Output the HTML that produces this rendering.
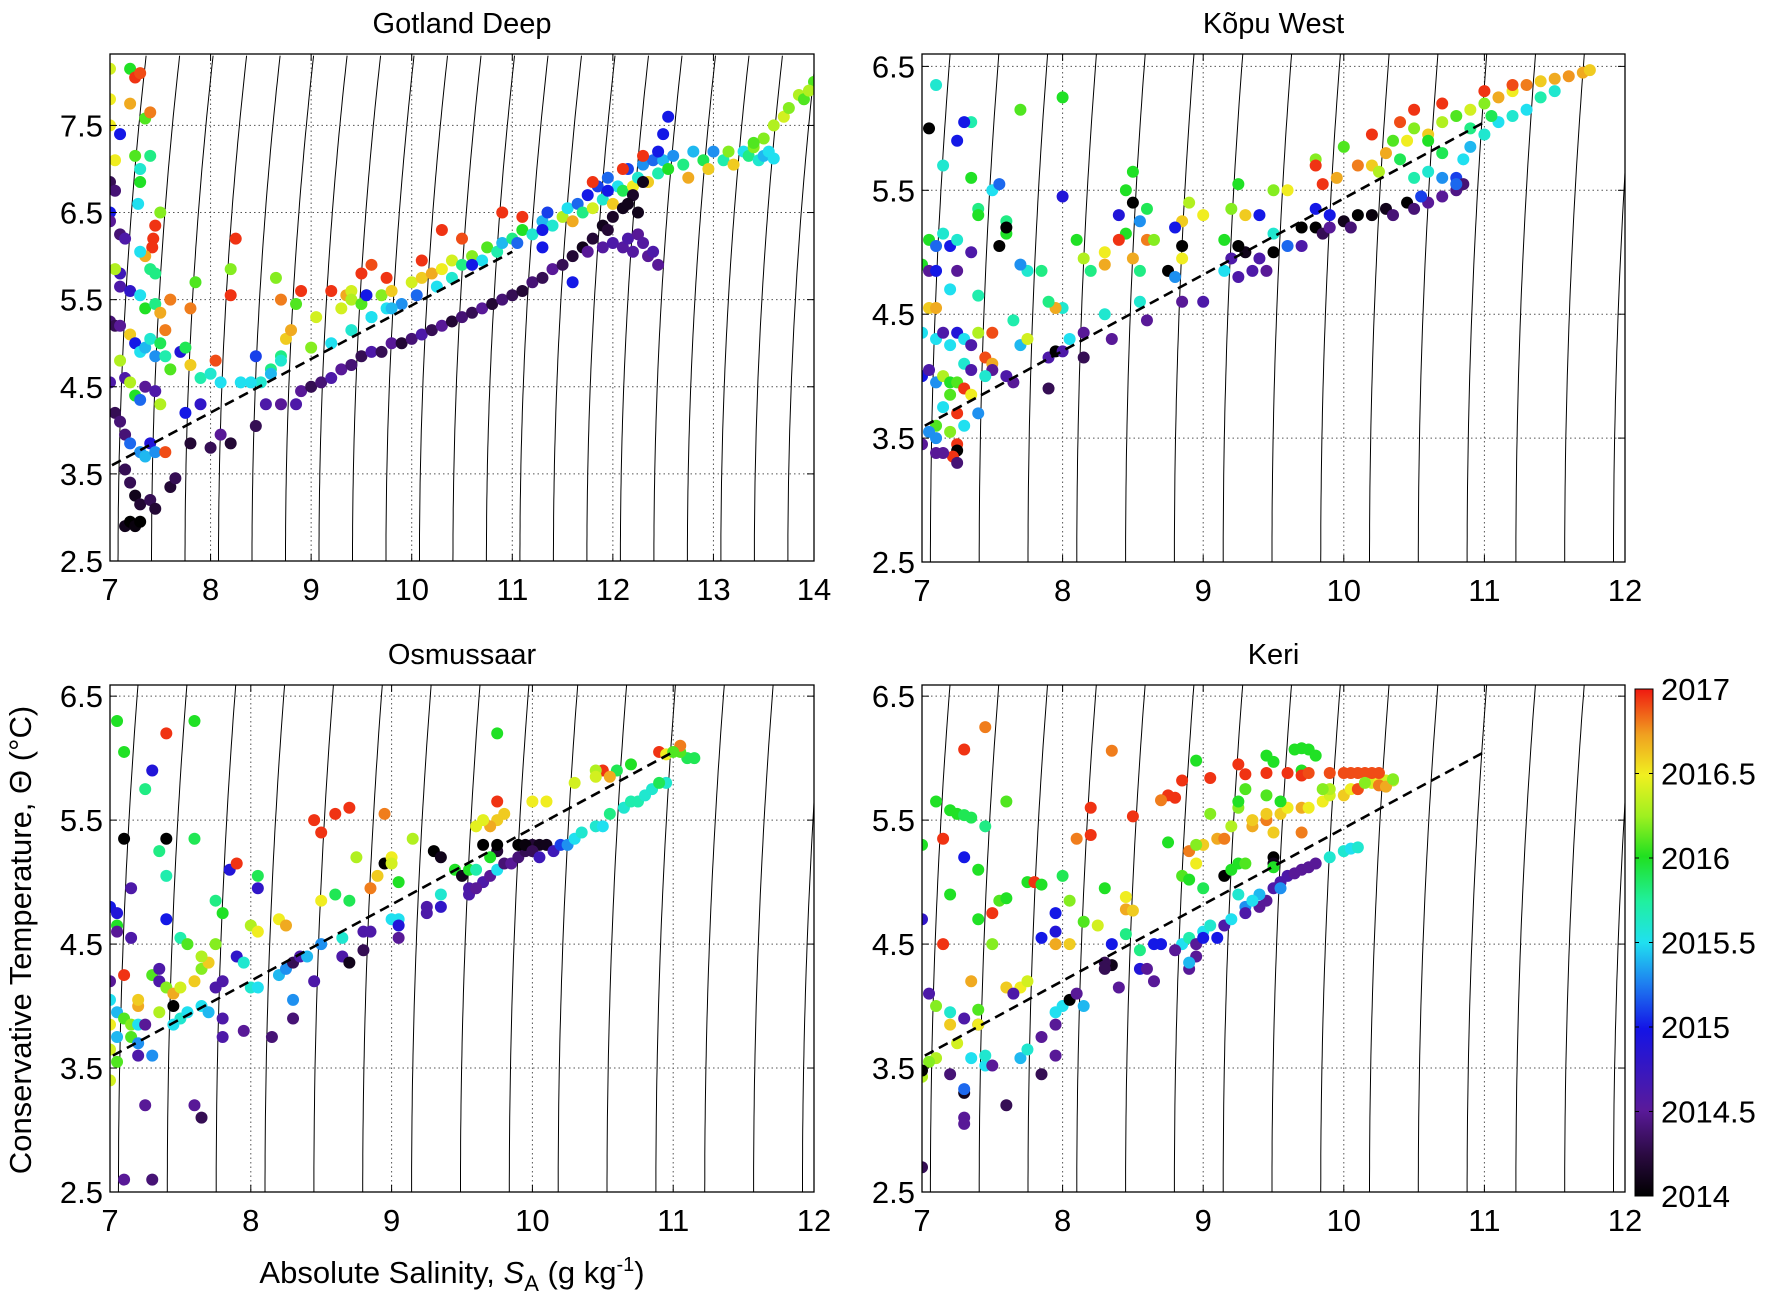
<!DOCTYPE html>
<html><head><meta charset="utf-8"><style>
html,body{margin:0;padding:0;background:#fff;}
svg{display:block;font-family:"Liberation Sans",Arial,sans-serif;}
</style></head><body>
<svg id="fig" width="1772" height="1312" viewBox="0 0 1772 1312" xmlns="http://www.w3.org/2000/svg">
<defs>
<linearGradient id="cbgrad" x1="0" y1="1" x2="0" y2="0">
<stop offset="0" stop-color="#000000"/><stop offset="0.08" stop-color="#2a0a40"/><stop offset="0.17" stop-color="#5a1a9a"/>
<stop offset="0.33" stop-color="#1414e6"/><stop offset="0.42" stop-color="#1e80f0"/><stop offset="0.5" stop-color="#20e0f0"/>
<stop offset="0.58" stop-color="#20f0a0"/><stop offset="0.67" stop-color="#20e020"/><stop offset="0.75" stop-color="#a0f020"/>
<stop offset="0.83" stop-color="#f0f020"/><stop offset="0.91" stop-color="#f0a020"/><stop offset="1" stop-color="#f01a10"/>
</linearGradient>
</defs>
</svg>
<script>
// ---------- data (years stored as year-2000) ----------
const yearOffset = 2000;
const gdS=[7.0,7.0,7.0,7.05,7.2,7.25,7.3,7.2,7.35,7.4,7.1,7.25,7.3,7.4,7.3,7.28,7.0,7.05,7.0,7.0,7.1,7.15,7.5,7.45,7.43,7.42,7.35,7.4,7.45,7.3,7.1,7.05,7.1,7.2,7.6,7.3,7.35,7.45,7.5,7.55,7.0,7.05,7.1,7.2,7.25,7.3,7.35,7.4,7.45,7.5,7.55,7.6,7.7,7.75,7.8,7.9,8.0,8.05,8.1,7.1,7.15,7.2,7.25,7.3,7.35,7.45,7.5,7.0,7.05,7.1,7.15,7.2,7.3,7.35,7.4,7.45,7.55,7.15,7.2,7.25,7.3,7.4,7.45,7.6,7.65,7.15,7.2,7.25,7.3,7.8,8.0,8.2,8.1,7.75,7.9,8.2,8.2,8.25,7.8,7.85,8.45,8.5,8.55,8.45,8.7,8.85,8.9,9.0,8.6,8.7,8.75,8.8,8.85,8.9,8.7,8.65,9.0,9.05,9.2,9.35,9.4,9.5,9.55,9.6,
9.3,9.4,9.5,9.6,9.7,9.75,9.8,9.9,10.0,10.05,10.1,10.2,10.25,10.3,10.4,10.4,10.5,10.6,10.7,10.75,10.85,10.9,11.0,11.05,11.1,11.2,11.3,11.35,11.4,11.5,11.55,11.6,11.65,11.7,11.75,11.8,11.85,11.9,11.95,12.0,12.05,12.1,12.15,12.2,12.25,12.3,12.35,12.4,12.45,12.5,12.55,12.6,12.7,12.75,12.8,12.9,12.95,13.0,13.1,13.15,13.2,13.3,13.35,13.4,13.45,13.5,13.55,13.6,13.5,13.6,13.7,13.75,13.85,13.9,14.0,13.95,13.4,12.5,12.55,12.45,12.3,12.1,11.8,11.95,11.1,10.9,10.5,10.3,10.1,9.75,9.55,10.6,11.3,
9.2,9.4,9.6,9.8,8.7,8.4,8.3,8.6,
9.1,9.2,9.3,9.4,9.5,9.6,9.7,9.8,9.9,10.0,10.1,10.2,10.3,10.4,10.5,10.6,10.7,10.8,10.9,11.0,11.1,11.2,11.3,11.4,11.5,11.6,11.7,11.8,11.9,12.0,12.1,12.2,12.3,11.75,11.9,12.0,12.1,12.15,12.25,12.3,12.35,12.45,12.4,12.2,11.6,11.3,12.25,12.15,11.95];
const gdT=[8.15,7.8,7.5,7.1,8.15,8.05,8.1,7.75,7.58,7.65,7.4,7.15,7.0,7.15,6.85,6.6,6.85,6.75,6.5,6.4,6.25,6.2,6.5,6.35,6.2,6.1,6.0,5.85,5.8,6.05,5.8,5.85,5.65,5.6,5.5,5.55,5.4,5.45,5.35,5.15,5.25,5.2,5.2,5.1,5.0,4.9,4.95,5.05,4.85,5.0,4.85,4.7,4.9,4.95,4.75,4.6,4.65,4.8,4.55,4.8,4.6,4.55,4.4,4.35,4.5,4.45,4.3,4.55,4.2,4.1,3.95,3.85,3.75,3.7,3.85,3.75,3.75,3.55,3.4,3.25,3.15,3.2,3.1,3.35,3.45,2.9,2.95,2.9,2.95,3.85,3.8,3.85,3.95,4.2,4.3,5.55,5.85,6.2,5.4,5.7,4.85,4.55,4.3,4.05,4.3,4.3,4.45,4.5,4.7,4.85,5.05,5.15,5.45,5.6,5.5,5.75,4.95,5.3,5.6,5.55,5.6,5.8,5.55,5.9,
5.4,5.5,5.45,5.3,5.55,5.4,5.6,5.45,5.7,5.55,5.75,5.8,5.65,5.85,5.75,5.95,5.9,6.0,5.95,6.1,6.05,6.15,6.2,6.15,6.3,6.25,6.4,6.5,6.35,6.45,6.55,6.4,6.6,6.5,6.7,6.55,6.8,6.65,6.9,6.6,6.8,6.75,7.0,6.8,6.9,7.05,6.85,7.1,6.95,7.1,7.0,7.15,7.05,6.9,7.2,7.1,7.0,7.2,7.1,7.2,7.05,7.2,7.15,7.25,7.1,7.15,7.2,7.12,7.35,7.5,7.6,7.7,7.85,7.8,8.0,7.9,7.3,7.4,7.6,7.2,7.15,7.0,6.85,6.75,6.45,6.5,6.2,6.3,5.95,5.75,5.55,5.9,6.3,
5.0,5.15,5.3,5.4,4.8,4.55,4.55,4.65,
4.55,4.6,4.7,4.75,4.85,4.9,4.9,5.0,5.0,5.05,5.1,5.15,5.2,5.25,5.3,5.35,5.4,5.45,5.5,5.55,5.6,5.7,5.75,5.85,5.9,6.0,6.1,6.2,6.35,6.45,6.55,6.7,6.85,6.05,6.1,6.15,6.1,6.2,6.25,6.15,6.0,5.9,6.05,6.05,5.7,6.1,6.5,6.6,6.3];
const gdY=[16.4,16.5,16.5,16.5,16.0,16.95,16.9,16.7,16.1,16.8,15.0,16.1,15.6,15.8,16.0,15.5,14.3,14.4,15.0,14.5,14.4,14.6,16.2,16.95,16.95,16.95,16.7,15.8,15.8,15.5,14.7,16.3,14.6,14.8,16.8,15.5,16.0,15.8,16.7,16.8,14.4,14.3,14.5,16.6,15.0,15.5,15.4,15.6,15.3,15.9,15.7,16.1,14.9,15.9,16.6,15.7,15.6,16.9,15.5,16.3,14.6,16.3,16.0,15.2,14.5,14.6,16.3,14.6,14.3,14.4,14.4,15.2,15.3,15.4,14.9,15.3,16.9,14.3,14.3,14.1,14.2,14.3,14.2,14.2,14.3,14.1,14.0,14.05,14.0,14.2,14.3,14.2,14.5,15.0,14.8,16.95,16.2,16.95,16.8,16.1,15.1,15.6,14.6,14.3,14.5,14.6,14.5,14.3,15.8,15.8,16.6,16.7,16.1,16.95,16.8,16.2,16.2,16.4,16.95,16.7,16.4,16.95,16.3,16.9,
16.4,16.3,16.1,15.6,16.2,15.5,16.6,15.3,16.4,15.2,16.6,16.7,15.5,16.5,15.6,16.4,15.8,16.2,15.5,16.1,15.7,15.4,15.8,15.2,16.0,15.6,15.4,15.1,15.6,16.3,15.5,16.7,15.2,15.8,15.0,16.4,15.1,15.6,15.2,16.6,15.5,15.9,15.1,16.5,15.6,15.3,16.6,15.2,15.7,15.4,16.0,15.3,15.8,16.7,15.4,15.9,16.6,15.3,15.7,16.2,16.6,15.5,15.8,16.2,15.6,15.4,15.5,15.5,16.2,16.3,16.4,16.2,16.3,16.1,16.1,16.3,16.1,15.0,15.0,15.0,16.95,16.95,16.95,15.0,16.95,16.95,16.9,16.95,16.95,16.95,15.0,15.0,15.0,
15.5,15.6,15.5,15.4,15.6,15.5,15.5,15.4,
14.4,14.6,14.5,14.4,14.3,14.6,14.3,14.5,14.2,14.4,14.6,14.3,14.5,14.2,14.4,14.3,14.5,14.2,14.4,14.3,14.2,14.4,14.3,14.5,14.3,14.2,14.1,14.2,14.1,14.15,14.1,14.15,14.1,14.5,14.55,14.6,14.55,14.6,14.5,14.55,14.5,14.5,14.6,14.55,15.0,15.0,14.1,14.1,14.2];

const kwS=[9.8,9.85,10.0,10.1,10.2,10.3,10.35,10.45,10.5,10.6,10.7,10.8,10.9,11.0,11.1,11.2,11.3,11.4,11.5,11.6,11.7,11.75,11.0,11.2,10.7,10.5,10.4,10.2,9.8,9.95,10.25,
10.5,10.6,10.7,10.8,10.85,10.9,11.0,11.1,11.2,11.3,11.4,11.5,10.9,10.7,11.05,10.6,10.4,
9.8,9.85,10.0,10.05,10.1,10.2,10.3,10.35,10.45,10.5,10.6,10.7,10.8,10.85,10.55,10.8,9.9,9.7,
9.8,9.9,9.6,9.5,9.2,9.3,9.25,9.0,9.4,9.15,9.5,9.6,9.7,9.5,9.4,9.3,9.25,9.2,9.15,9.25,9.35,9.45,9.0,8.85,8.85,8.85,8.8,8.9,8.75,8.85,8.8,8.6,8.65,8.55,8.6,8.5,8.4,8.45,8.5,8.45,8.4,8.5,8.55,8.55,8.6,8.3,8.35,8.3,8.3,8.15,8.2,8.1,8.0,8.0,8.0,7.95,7.9,7.85,7.75,7.7,7.6,7.6,7.7,7.35,7.3,7.1,7.05,7.15,7.4,7.35,7.5,7.55,7.6,
7.0,7.05,7.1,7.15,7.2,7.25,7.05,7.05,7.1,7.0,7.1,7.15,7.2,7.25,7.3,7.35,7.4,7.45,7.5,7.3,7.35,7.0,7.05,7.1,7.15,7.2,7.25,7.3,7.35,7.4,7.2,7.15,7.25,7.3,7.2,7.1,7.05,7.1,7.25,7.25,7.22,7.0,7.1,7.15,7.25,7.5,7.6,7.65,7.7,7.75,7.5,7.65,7.9,7.95,8.0,8.15,8.05,8.15,7.9,7.45,7.4,7.2,7.1,7.25,7.35,7.25,7.4,7.55];
const kwT=[5.75,5.55,5.85,5.7,5.7,5.8,5.9,5.9,6.0,5.95,6.05,6.1,6.15,6.2,6.25,6.3,6.35,6.38,6.4,6.42,6.45,6.47,6.3,6.35,6.2,6.15,6.05,5.95,5.7,5.6,5.65,
5.6,5.65,5.6,5.6,5.75,5.85,5.95,6.05,6.1,6.15,6.25,6.3,6.0,5.8,6.1,5.9,5.75,
5.2,5.15,5.25,5.2,5.3,5.3,5.35,5.3,5.4,5.35,5.4,5.45,5.5,5.55,5.45,5.55,5.2,5.2,
5.35,5.3,5.5,5.5,5.35,5.3,5.55,5.3,5.3,5.1,5.15,5.05,5.05,5.0,4.95,5.0,5.05,4.95,4.85,4.8,4.85,4.85,4.6,4.95,5.05,5.25,5.2,5.4,4.85,4.6,4.8,5.1,5.1,5.25,5.35,5.4,5.3,5.5,5.65,5.15,5.1,4.95,4.85,4.6,4.45,4.5,4.3,5.0,4.9,4.95,4.85,5.1,5.45,6.25,4.55,4.55,4.6,4.85,4.85,4.9,5.25,5.15,6.15,6.05,6.05,6.35,6.0,5.7,5.35,5.6,5.5,5.55,5.2,
4.9,5.1,5.05,5.15,5.05,5.1,4.85,4.55,4.55,4.35,4.3,4.35,4.25,4.35,4.3,4.25,4.35,4.15,4.1,4.1,4.05,4.0,4.05,3.95,4.0,3.95,3.95,3.9,3.85,3.7,3.85,3.75,3.7,3.6,3.55,3.6,3.55,3.5,3.45,3.4,3.35,3.45,3.38,3.38,3.3,4.05,4.0,3.95,4.25,4.3,4.35,4.45,4.15,4.2,4.2,4.15,4.3,4.35,3.9,4.0,4.65,4.7,4.85,4.85,5.0,5.9,5.3,5.05];
const kwY=[16.2,16.95,16.1,16.8,16.6,16.7,16.1,16.5,16.2,16.6,16.3,16.1,16.4,16.2,16.7,16.5,16.8,16.6,16.7,16.75,16.7,16.6,16.95,16.9,16.95,16.95,16.9,16.95,16.95,16.7,16.3,
15.7,15.6,15.3,15.1,15.5,15.4,15.6,15.5,15.6,15.5,15.7,15.6,15.8,15.9,15.9,16.0,15.9,
14.0,14.3,14.1,14.4,14.0,14.05,14.1,14.4,14.0,14.4,14.5,14.5,14.45,14.4,15.1,15.2,14.5,14.0,
15.0,15.0,16.5,16.2,16.2,16.6,16.0,16.5,15.0,16.0,15.6,15.2,14.6,14.0,14.6,14.1,14.0,14.6,15.5,14.6,14.6,14.5,14.6,16.5,14.0,16.6,15.0,16.3,14.0,14.5,15.3,16.8,16.2,15.3,15.9,14.0,14.9,16.0,16.0,16.0,16.95,16.7,15.8,15.6,14.5,15.6,14.5,16.5,16.7,16.3,15.8,16.0,14.9,16.0,15.6,16.7,15.8,15.8,15.6,15.3,15.8,16.0,16.1,15.7,15.0,15.6,14.0,15.6,15.8,16.0,15.5,15.2,14.0,
16.0,16.0,15.2,15.6,15.0,15.6,14.5,16.6,16.7,15.5,15.5,14.6,15.5,14.9,15.5,14.6,16.3,16.9,16.7,15.6,14.6,15.0,14.6,15.3,16.3,16.0,16.1,16.95,16.5,15.3,16.1,15.5,16.95,15.5,16.2,16.1,15.3,15.3,16.95,14.0,16.95,14.5,14.5,14.5,14.4,14.5,14.6,14.5,15.4,16.4,16.9,15.7,14.6,14.0,14.6,14.3,15.5,14.5,14.3,15.6,15.7,15.5,15.0,14.5,14.6,15.0,16.0,14.0];

const osS=[7.05,7.1,7.6,7.4,7.3,7.25,7.1,7.4,7.6,7.35,7.4,7.15,7.85,7.9,8.05,8.05,7.0,7.05,7.05,7.05,7.15,7.4,7.5,7.55,7.75,7.8,7.75,7.9,7.95,8.0,8.05,8.2,8.25,7.0,7.1,7.2,7.2,7.3,7.35,7.35,7.4,7.45,7.6,7.65,7.7,7.65,7.5,7.75,7.8,7.0,7.05,7.0,7.1,7.15,7.2,7.25,7.05,7.15,7.2,7.0,7.05,7.0,7.2,7.3,7.35,7.45,7.5,7.45,7.55,7.65,7.7,7.8,7.8,7.95,8.15,8.3,7.25,7.6,7.65,7.1,7.3,8.0,8.05,8.2,8.25,8.3,8.35,8.4,8.5,8.5,8.6,8.7,8.75,8.85,8.9,8.95,9.0,9.0,8.65,8.65,8.7,8.8,8.8,8.85,8.45,8.3,9.0,9.05,9.05,9.05,9.05,9.15,9.3,9.35,9.45,9.5,9.55,9.6,9.35,9.25,9.25,9.35,9.55,9.55,9.65,9.6,9.7,9.75,9.8,9.85,9.9,9.95,10.0,10.05,9.9,9.95,10.0,10.1,9.75,9.75,9.65,9.7,10.05,10.15,10.2,10.25,10.3,10.35,10.45,10.5,10.55,10.65,10.7,10.75,10.8,10.85,10.95,11.1,11.15,11.05,10.9,11.05,10.95,11.0,10.9,10.6,10.7,10.5,10.45,10.45,10.55,10.3,10.1,10.0,9.8,9.75,9.7,9.65,9.6,9.75,9.75,8.45,8.5,8.6,8.7,8.95];
const osT=[6.3,6.05,6.3,6.2,5.9,5.75,5.35,5.35,5.35,5.25,5.05,4.95,5.1,5.15,5.05,4.95,4.8,4.75,4.65,4.6,4.55,4.7,4.55,4.5,4.85,4.75,4.5,4.4,4.35,4.65,4.6,4.7,4.65,4.2,4.25,4.0,4.05,4.25,4.3,4.2,4.15,4.1,4.2,4.3,4.35,4.4,4.15,4.15,4.2,4.05,3.95,3.85,3.9,3.85,3.85,3.85,3.75,3.75,3.7,3.65,3.55,3.4,3.6,3.6,3.95,4.0,3.9,3.85,3.95,4.0,3.95,3.75,3.9,3.8,3.75,3.9,3.2,3.2,3.1,2.6,2.6,4.15,4.15,4.25,4.3,4.35,4.4,4.4,4.5,4.85,4.9,4.85,5.2,4.95,5.05,5.15,5.2,5.15,4.55,4.4,4.35,4.45,4.6,4.6,4.2,4.05,4.7,4.7,4.65,4.55,5.0,5.35,5.25,5.2,5.1,5.05,5.1,5.1,4.8,4.8,4.75,4.9,4.95,4.9,5.0,4.95,5.05,5.1,5.15,5.15,5.2,5.25,5.3,5.3,5.3,5.3,5.25,5.3,5.25,5.3,5.3,5.2,5.2,5.25,5.3,5.3,5.35,5.4,5.45,5.45,5.55,5.6,5.65,5.65,5.7,5.75,5.8,6.0,6.0,6.05,6.05,6.1,6.03,6.05,5.8,5.9,5.95,5.9,5.9,5.85,5.85,5.8,5.65,5.65,5.55,5.5,5.45,5.5,5.45,5.65,6.2,5.5,5.4,5.55,5.6,5.55];
const osY=[16.0,16.0,16.0,16.95,14.9,15.8,14.0,14.0,15.9,15.8,15.7,14.6,14.9,16.95,15.9,14.8,15.0,14.9,16.0,14.5,14.6,15.0,15.7,16.1,15.8,16.0,16.2,14.8,15.6,16.3,16.5,16.5,16.7,14.5,16.95,16.7,16.6,16.1,14.6,14.6,16.2,16.7,16.6,16.2,16.6,16.3,16.4,14.6,14.6,15.5,15.4,16.5,16.1,16.2,15.5,14.5,15.4,16.1,15.3,16.4,16.1,16.4,14.6,15.3,16.3,14.0,15.6,15.5,15.5,15.5,15.4,14.6,14.6,14.5,14.4,14.4,14.5,14.5,14.3,14.5,14.4,15.6,15.5,15.4,15.3,14.3,14.6,15.4,15.3,16.5,15.9,15.9,16.3,16.8,16.6,14.0,16.5,16.4,15.6,14.6,14.1,14.3,14.6,14.6,14.6,15.3,15.5,15.5,14.9,14.5,16.0,16.3,14.0,14.1,16.0,14.1,16.0,15.7,14.8,14.6,14.6,15.6,14.6,14.6,14.6,14.5,14.5,15.5,14.4,14.5,14.4,14.3,14.2,14.1,14.0,14.05,14.3,14.1,14.2,14.0,14.0,16.0,14.7,14.7,15.1,15.3,15.5,15.6,15.6,15.5,15.8,15.6,15.7,15.7,15.6,15.6,15.6,15.9,15.9,16.1,16.95,16.8,16.5,16.1,15.9,15.9,16.0,16.95,16.3,16.4,16.7,16.4,16.5,16.5,16.6,16.6,16.7,16.45,16.45,16.95,16.0,16.95,16.95,16.95,16.95,16.8];

const krS=[7.45,7.3,8.35,7.1,7.2,7.25,7.3,7.35,7.6,7.45,7.0,7.15,7.3,7.4,7.75,7.8,7.85,7.55,7.6,7.4,7.5,7.2,7.5,7.0,7.15,7.95,7.95,8.05,8.0,8.05,8.15,8.25,8.3,8.2,8.1,8.2,8.5,8.45,8.45,8.5,8.45,8.55,8.55,8.35,8.65,8.7,8.6,8.65,8.35,8.4,8.3,7.35,7.6,7.7,7.75,7.65,7.05,7.1,7.2,7.3,7.4,7.4,7.2,7.4,7.25,7.1,7.05,7.0,7.0,7.2,7.3,7.3,7.35,7.45,7.5,7.45,7.7,7.75,7.95,7.85,7.95,8.0,8.05,8.1,8.15,7.95,7.85,7.6,7.3,7.3,7.0,7.95,7.85,
8.85,8.9,9.0,9.05,8.95,8.9,8.95,8.8,8.9,9.0,9.1,9.15,9.2,9.3,9.3,9.4,9.45,9.5,9.55,9.6,9.65,9.7,9.75,9.8,9.55,9.4,9.35,9.25,9.9,10.0,10.05,10.1,9.15,9.5,9.5,8.3,9.0,9.2,9.25,9.3,9.5,8.85,8.9,8.95,8.9,9.0,9.1,9.15,9.2,9.35,9.35,9.45,9.45,9.55,9.6,9.7,9.75,9.85,9.9,10.0,10.05,10.2,10.25,10.3,10.35,10.25,10.1,9.9,9.7,9.5,9.7,9.85,9.05,9.25,8.95,8.75,9.3,9.25,9.45,9.55,9.5,9.45,9.65,9.7,9.75,9.8,8.95,9.25,9.05,9.3,9.45,9.6,9.7,9.75,9.9,10.0,10.05,10.1,10.15,10.2,10.25,8.75,8.7,8.8,8.85,10.15,10.3,10.35];
const krT=[6.25,6.07,6.06,5.65,5.58,5.55,5.54,5.52,5.65,5.45,5.3,5.35,5.2,5.1,5.0,5.0,4.98,4.85,4.87,4.7,4.5,4.9,4.75,4.7,4.5,4.75,4.5,4.5,5.05,4.85,4.68,4.65,4.95,5.38,5.35,5.6,5.53,4.88,4.78,4.77,4.58,4.45,4.3,4.5,4.5,4.5,4.3,4.2,4.33,4.15,4.35,4.2,4.15,4.15,4.2,4.1,4.1,4.0,3.95,3.9,3.85,3.97,3.85,3.85,3.7,3.58,3.55,3.43,3.48,3.45,3.3,3.33,3.58,3.52,3.52,3.6,3.58,3.65,3.85,3.75,3.95,4.0,4.05,4.1,4.0,3.6,3.45,3.2,3.1,3.05,2.7,4.6,4.55,
4.5,4.55,4.6,4.65,4.5,4.3,4.4,4.45,4.35,4.55,4.55,4.65,4.7,4.8,4.75,4.8,4.85,4.95,5.0,5.05,5.07,5.1,5.12,5.15,4.95,4.9,4.85,4.9,5.2,5.25,5.27,5.28,5.05,5.2,5.15,4.3,4.95,5.1,5.15,5.15,5.12,5.05,5.02,5.15,5.25,5.3,5.35,5.35,5.45,5.45,5.5,5.5,5.55,5.55,5.6,5.6,5.6,5.65,5.7,5.7,5.75,5.8,5.8,5.82,5.82,5.78,5.75,5.75,5.4,5.4,5.9,5.75,5.55,5.6,5.3,5.32,5.75,5.65,5.7,5.65,5.97,6.02,6.07,6.08,6.07,6.02,5.98,5.95,5.84,5.87,5.88,5.88,5.86,5.88,5.88,5.88,5.88,5.88,5.88,5.88,5.88,5.7,5.66,5.68,5.82,5.8,5.77,5.83];
const krY=[16.8,16.95,16.8,16.0,16.0,16.0,15.9,15.9,16.1,15.8,16.0,16.95,15.0,16.0,16.0,16.95,16.0,16.1,16.0,16.0,16.2,16.0,16.95,14.8,16.95,15.0,16.7,16.6,15.9,16.2,16.1,16.4,16.0,16.95,16.8,16.95,16.95,16.5,16.7,16.6,15.8,15.8,14.9,15.0,15.0,15.0,14.5,14.5,14.1,14.5,14.3,16.7,16.6,16.5,16.4,14.6,14.6,16.2,15.6,14.6,14.7,16.1,16.6,16.5,16.4,16.3,16.2,16.3,14.0,14.4,14.1,15.2,15.5,15.5,14.5,15.6,15.4,15.6,14.5,14.5,15.5,15.5,14.0,14.5,15.4,14.5,14.3,14.3,14.5,14.5,14.3,14.9,15.0,
15.5,15.7,15.5,15.6,14.5,14.5,14.5,14.5,15.4,15.0,15.0,14.6,15.5,15.3,14.6,14.5,14.5,14.6,14.6,14.6,14.5,14.5,14.5,14.5,15.3,15.4,15.5,15.6,15.6,15.6,15.5,15.6,14.0,14.0,14.1,14.3,15.9,16.0,16.0,16.1,16.0,16.1,16.0,16.5,16.8,16.6,16.7,16.8,16.3,16.7,16.6,16.8,16.6,16.6,16.5,16.7,16.5,16.5,16.4,16.6,16.5,16.4,16.5,16.4,16.3,16.8,16.9,16.3,16.8,16.6,16.0,16.2,16.2,16.2,16.2,16.0,16.1,16.0,16.1,16.0,16.0,16.0,16.0,16.0,16.0,16.0,16.0,16.95,16.95,16.95,16.95,16.95,16.95,16.9,16.9,16.9,16.9,16.9,16.9,16.9,16.9,16.95,16.8,16.95,16.95,16.2,16.7,16.2];

// axis tick labels
const yTicksGD=[2.5,3.5,4.5,5.5,6.5,7.5];
const yTicksOther=[2.5,3.5,4.5,5.5,6.5];
const xTicksGD=[7,8,9,10,11,12,13,14];
const xTicksOther=[7,8,9,10,11,12];
const cbTicks=[2014,2014.5,2015,2015.5,2016,2016.5,2017];
// dashed reference line endpoints (S, Θ)
const refS=[7.02,11.0];
const refT=[3.6,6.05];

// ---------- drawing ----------
const NS="http://www.w3.org/2000/svg";
const svg=document.getElementById('fig');
function el(tag,attrs,parent){const e=document.createElementNS(NS,tag);for(const k in attrs)e.setAttribute(k,attrs[k]);(parent||svg).appendChild(e);return e;}

const cstops=[[0,[0,0,0]],[0.08,[42,10,64]],[0.17,[90,26,154]],[0.33,[20,20,230]],[0.42,[30,128,240]],[0.5,[32,224,240]],[0.58,[32,240,160]],[0.67,[32,224,32]],[0.75,[160,240,32]],[0.83,[240,240,32]],[0.91,[240,160,32]],[1,[240,26,16]]];
function cmap(y){let f=(y-2014)/3;f=Math.max(0,Math.min(1,f));for(let i=1;i<cstops.length;i++){if(f<=cstops[i][0]){const a=cstops[i-1],b=cstops[i];const t=(f-a[0])/(b[0]-a[0]);const c=a[1].map((v,j)=>Math.round(v+(b[1][j]-v)*t));return `rgb(${c[0]},${c[1]},${c[2]})`;}}return 'rgb(240,26,16)';}

function panel(o){
  const g=el('g',{});
  
  
  const xs=v=>o.x0+(v-o.xmin)/(o.xmax-o.xmin)*(o.x1-o.x0);
  const ys=v=>o.y1-(v-o.ymin)/(o.ymax-o.ymin)*(o.y1-o.y0);
  const cid='clip-'+o.name;
  const cp=el('clipPath',{id:cid},g);el('rect',{x:o.x0,y:o.y0,width:o.x1-o.x0,height:o.y1-o.y0},cp);
  const inner=el('g',{'clip-path':`url(#${cid})`},g);
  o.xt.forEach(v=>{const l=el('line',{x1:xs(v),x2:xs(v),y1:o.y0,y2:o.y1,stroke:'#555','stroke-width':1,'stroke-dasharray':'1.5 3'},inner);});
  o.yt.forEach(v=>{const l=el('line',{x1:o.x0,x2:o.x1,y1:ys(v),y2:ys(v),stroke:'#555','stroke-width':1,'stroke-dasharray':'1.5 3'},inner);});
  for(let s0=o.iso0;s0<o.xmax+0.4;s0+=o.isoStep){let d='';for(let t=o.ymin;t<=o.ymax+0.01;t+=0.1){const s=s0+0.0083*(t-2.5)*(t-2.5);d+=(d?'L':'M')+xs(s).toFixed(1)+' '+ys(t).toFixed(1);}
    const p=el('path',{d:d,fill:'none',stroke:'#000','stroke-width':1},inner);}
  for(let i=0;i<o.S.length;i++){const c=el('circle',{cx:xs(o.S[i]),cy:ys(o.T[i]),r:6,fill:cmap(o.Y[i]+yearOffset)},inner);}
  const rl=el('line',{x1:xs(refS[0]),y1:ys(refT[0]),x2:xs(refS[1]),y2:ys(refT[1]),stroke:'#000','stroke-width':2.6,'stroke-dasharray':'10 6'},inner);
  
  const fr=el('rect',{x:o.x0,y:o.y0,width:o.x1-o.x0,height:o.y1-o.y0,fill:'none',stroke:'#000','stroke-width':1.3},g);
  
  o.xt.forEach(v=>{el('line',{x1:xs(v),x2:xs(v),y1:o.y1,y2:o.y1-7,stroke:'#000'},g);el('line',{x1:xs(v),x2:xs(v),y1:o.y0,y2:o.y0+7,stroke:'#000'},g);
    const t=el('text',{x:xs(v),y:o.y1+39,'text-anchor':'middle','font-size':31},g);t.textContent=v;});
  o.yt.forEach(v=>{el('line',{x1:o.x0,x2:o.x0+7,y1:ys(v),y2:ys(v),stroke:'#000'},g);el('line',{x1:o.x1,x2:o.x1-7,y1:ys(v),y2:ys(v),stroke:'#000'},g);
    const t=el('text',{x:o.x0-7,y:ys(v)+11,'text-anchor':'end','font-size':31},g);t.textContent=v.toFixed(1);});
  const tt=el('text',{x:(o.x0+o.x1)/2,y:o.y0-21,'text-anchor':'middle','font-size':29},g);tt.textContent=o.title;
  
}

panel({name:'gotland-deep-panel',title:'Gotland Deep',x0:110,x1:814,y0:54,y1:561,xmin:7,xmax:14,ymin:2.5,ymax:8.32,xt:xTicksGD,yt:yTicksGD,iso0:7.08,isoStep:0.333,S:gdS,T:gdT,Y:gdY});
panel({name:'kopu-west-panel',title:'Kõpu West',x0:922,x1:1625,y0:54,y1:562,xmin:7,xmax:12,ymin:2.5,ymax:6.6,xt:xTicksOther,yt:yTicksOther,iso0:7.06,isoStep:0.347,S:kwS,T:kwT,Y:kwY});
panel({name:'osmussaar-panel',title:'Osmussaar',x0:110,x1:814,y0:685,y1:1192,xmin:7,xmax:12,ymin:2.5,ymax:6.59,xt:xTicksOther,yt:yTicksOther,iso0:7.06,isoStep:0.347,S:osS,T:osT,Y:osY});
panel({name:'keri-panel',title:'Keri',x0:922,x1:1625,y0:685,y1:1192,xmin:7,xmax:12,ymin:2.5,ymax:6.59,xt:xTicksOther,yt:yTicksOther,iso0:7.06,isoStep:0.347,S:krS,T:krT,Y:krY});

const cbx=1635,cbw=18,cby0=689,cby1=1196;
const cb=el('rect',{x:cbx,y:cby0,width:cbw,height:cby1-cby0,fill:'url(#cbgrad)',stroke:'#000','stroke-width':1});

cbTicks.forEach(v=>{const y=cby1-(v-2014)/3*(cby1-cby0);el('line',{x1:cbx,x2:cbx+4,y1:y,y2:y,stroke:'#000'});el('line',{x1:cbx+cbw,x2:cbx+cbw-4,y1:y,y2:y,stroke:'#000'});
  const t=el('text',{x:1661,y:y+11,'font-size':31});t.textContent=v;});

const yt=el('text',{x:0,y:0,'font-size':31,'text-anchor':'middle',transform:'translate(31,940) rotate(-90)'});
yt.textContent='Conservative Temperature, Θ (°C)';

const xt=el('text',{x:452,y:1283,'font-size':31,'text-anchor':'middle'});

xt.innerHTML='Absolute Salinity, <tspan font-style="italic">S</tspan><tspan font-size="22" dy="8">A</tspan><tspan dy="-8"> (g kg</tspan><tspan font-size="20" dy="-12">-1</tspan><tspan dy="12">)</tspan>';
</script>
</body></html>
